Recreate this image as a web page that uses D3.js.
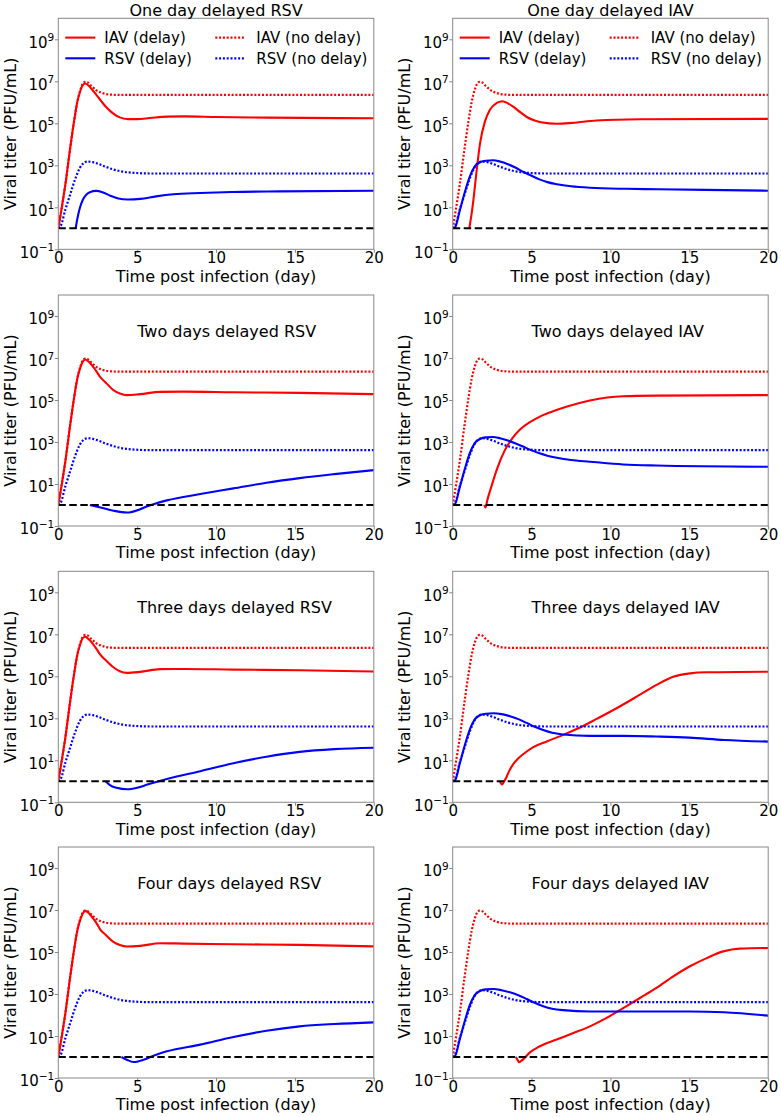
<!DOCTYPE html>
<html><head><meta charset="utf-8">
<script src="https://cdn.jsdelivr.net/npm/d3@7"></script>
<style>body{margin:0;background:#fff}svg{display:block;font-family:"DejaVu Sans",sans-serif}</style>
</head><body><svg id="chart" width="781" height="1117"></svg>
<script>
// ---------- data ----------
const days = [0, 5, 10, 15, 20];
const titerTicks = [1e-1, 1e1, 1e3, 1e5, 1e7, 1e9];
const titerTickExponents = ["\u22121", "1", "3", "5", "7", "9"];
const detectionLimit = 1;
const panelTitles = ["One day delayed RSV", "One day delayed IAV", "Two days delayed RSV", "Two days delayed IAV",
  "Three days delayed RSV", "Three days delayed IAV", "Four days delayed RSV", "Four days delayed IAV"];
const legendLabels = ["IAV (delay)", "RSV (delay)", "IAV (no delay)", "RSV (no delay)"];
const xLabel = "Time post infection (day)";
const yLabel = "Viral titer (PFU/mL)";

// [day, PFU/mL]
const iavNoDelay = [[0,1],[0.2,7.9],[0.45,126],[0.75,6.3e3],[1.0,1.26e5],[1.2,1.0e6],[1.4,4.0e6],[1.55,7.6e6],[1.7,9.3e6],[1.85,8.9e6],[2.1,6.0e6],[2.4,3.8e6],[2.7,2.9e6],[3.0,2.5e6],[3.4,2.3e6],[4.0,2.24e6],[20,2.24e6]];
const rsvNoDelay = [[0,1],[0.15,1.26],[0.45,7.9],[0.75,40],[1.05,200],[1.35,708],[1.6,1260],[1.85,1510],[2.2,1410],[2.6,1120],[3.0,850],[3.5,631],[4.0,513],[4.8,437],[6,407],[20,407]];

const iavDelayRSV1 = [[0,1],[0.2,7.9],[0.45,126],[0.75,6.3e3],[1.0,1.26e5],[1.2,1.0e6],[1.4,3.55e6],[1.55,6.6e6],[1.7,7.9e6],[1.95,6.0e6],[2.2,3.55e6],[2.45,2.09e6],[2.7,1.2e6],[3.0,6.3e5],[3.3,3.8e5],[3.6,2.51e5],[3.9,1.91e5],[4.4,1.58e5],[5.0,1.58e5],[5.8,1.78e5],[6.9,2.09e5],[8,2.14e5],[10,2.0e5],[13.2,1.86e5],[20,1.74e5]];
const rsvDelayRSV1 = [[1.1,1],[1.22,3.16],[1.38,10],[1.55,22.4],[1.75,38],[2.0,52.5],[2.4,60.3],[2.8,52.5],[3.3,35.5],[3.8,26.3],[4.4,23.4],[5.2,25.1],[6.2,33.1],[7.3,41.7],[9,47.9],[11,53.7],[14,57.5],[20,61.7]];

const iavDelayIAV1 = [[1.05,1],[1.2,5.0],[1.31,21.4],[1.52,575],[1.73,1.07e4],[2.05,1.26e5],[2.36,4.47e5],[2.79,9.3e5],[3.15,1.12e6],[3.5,8.9e5],[3.85,6.0e5],[4.3,3.3e5],[4.7,2.0e5],[5.2,1.35e5],[5.6,1.12e5],[6.6,9.5e4],[7.6,1.05e5],[9.1,1.35e5],[11.9,1.55e5],[20,1.62e5]];
const rsvDelayIAV1 = [[0,1],[0.15,1.12],[0.45,7.08],[0.78,56.2],[1.1,316],[1.4,891],[1.75,1410],[2.1,1660],[2.55,1740],[3.0,1510],[3.5,1120],[4.0,759],[4.5,479],[5.0,316],[5.5,214],[6.0,158],[6.6,126],[7.5,100],[8.7,85.1],[11,75.9],[13,72.4],[20,61.7]];

const iavDelayRSV2 = [[0,1],[0.2,7.9],[0.45,126],[0.75,6.3e3],[1.0,1.26e5],[1.2,1.0e6],[1.4,3.55e6],[1.55,6.6e6],[1.7,8.5e6],[1.95,6.5e6],[2.2,3.9e6],[2.45,2.14e6],[2.65,1.26e6],[3.0,6.9e5],[3.49,2.95e5],[3.9,2.04e5],[4.34,1.7e5],[5.19,1.91e5],[6.46,2.45e5],[7.94,2.51e5],[11.1,2.34e5],[15.3,2.19e5],[20,1.91e5]];
const rsvDelayRSV2 = [[2.0,1],[2.4,0.851],[3.0,0.661],[3.5,0.537],[4.34,0.437],[5.19,0.631],[5.6,0.851],[6.03,1.1],[6.88,1.66],[9.0,3.31],[11.1,6.17],[13.2,11.5],[15.3,19.1],[17.5,29.5],[20,45.7]];

const iavDelayIAV2 = [[2.0,1],[2.08,0.76],[2.2,1.78],[2.4,5.62],[2.8,50.1],[3.3,398],[3.8,1585],[4.3,4.17e3],[4.9,8.9e3],[5.5,1.58e4],[6.2,2.63e4],[7.2,4.79e4],[8.7,9.55e4],[9.8,1.32e5],[10.8,1.51e5],[12.9,1.62e5],[20,1.70e5]];
const rsvDelayIAV2 = [[0,1],[0.15,1.12],[0.45,7.08],[0.78,56.2],[1.1,316],[1.4,891],[1.75,1410],[2.1,1660],[2.55,1740],[3.0,1510],[3.5,1175],[4.0,851],[4.5,589],[5.0,398],[5.5,288],[6.0,224],[6.6,178],[7.5,138],[8.7,115],[10.8,85.1],[12.9,75.9],[20,66.1]];

const iavDelayRSV3 = [[0,1],[0.2,7.9],[0.45,126],[0.75,6.3e3],[1.0,1.26e5],[1.2,1.0e6],[1.4,3.55e6],[1.55,6.6e6],[1.7,7.6e6],[1.95,5.6e6],[2.2,3.4e6],[2.45,1.86e6],[2.65,1.1e6],[3.0,5.9e5],[3.49,2.69e5],[3.9,1.74e5],[4.34,1.45e5],[5.19,1.62e5],[6.46,2.19e5],[7.94,2.24e5],[11.1,2.09e5],[15.3,1.95e5],[20,1.70e5]];
const rsvDelayRSV3 = [[3.0,1],[3.3,0.631],[3.7,0.49],[4.34,0.417],[5.19,0.537],[5.6,0.676],[6.03,0.851],[6.88,1.29],[9.0,3.02],[11.1,7.24],[13.2,14.8],[15.3,25.1],[17.5,33.9],[20,39.8]];

const iavDelayIAV3 = [[3.0,1],[3.12,0.708],[3.25,0.955],[3.42,1.66],[3.6,3.31],[3.84,6.61],[4.1,11.2],[4.48,20],[5.11,42.7],[5.96,79.4],[7.01,162],[8.07,363],[9.12,933],[10.39,3020],[11.66,1.07e4],[12.92,3.89e4],[13.98,9.55e4],[15.04,1.38e5],[16.1,1.55e5],[20,1.66e5]];
const rsvDelayIAV3 = [[0,1],[0.15,1.12],[0.45,7.08],[0.78,56.2],[1.1,316],[1.4,891],[1.75,1410],[2.1,1660],[2.58,1740],[3.1,1585],[3.63,1259],[4.2,891],[4.69,603],[5.2,398],[5.74,275],[6.3,204],[7.0,170],[8.7,145],[10.8,145],[12.9,135],[15.0,120],[17.2,93.3],[20,77.6]];

const iavDelayRSV4 = [[0,1],[0.2,7.9],[0.45,126],[0.75,6.3e3],[1.0,1.26e5],[1.2,1.0e6],[1.4,3.55e6],[1.55,6.6e6],[1.7,9.1e6],[1.95,6.9e6],[2.2,4.0e6],[2.45,2.19e6],[2.65,1.2e6],[3.0,6.6e5],[3.49,3.0e5],[3.9,2.14e5],[4.34,1.82e5],[5.19,1.95e5],[6.46,2.63e5],[7.94,2.51e5],[11.1,2.34e5],[15.3,2.19e5],[20,1.86e5]];
const rsvDelayRSV4 = [[4.0,1],[4.34,0.741],[4.76,0.575],[5.4,0.741],[6.03,1.15],[6.88,1.86],[9.0,3.89],[11.1,8.91],[13.2,17.8],[15.3,28.8],[17.5,37.2],[20,44.7]];

const iavDelayIAV4 = [[4.0,1],[4.12,0.708],[4.22,0.562],[4.35,0.661],[4.48,0.794],[4.9,1.66],[5.53,3.24],[6.59,6.76],[7.65,13.8],[8.7,28.8],[9.76,72.4],[10.81,214],[11.87,646],[12.92,1950],[13.98,6920],[15.04,2.09e4],[16.1,5.13e4],[17.15,1.07e5],[18.2,1.45e5],[20,1.55e5]];
const rsvDelayIAV4 = [[0,1],[0.15,1.12],[0.45,7.08],[0.78,56.2],[1.1,316],[1.4,891],[1.75,1410],[2.1,1660],[2.58,1740],[3.1,1514],[3.63,1202],[4.2,851],[4.69,575],[5.2,380],[5.74,263],[6.3,200],[7.0,170],[8.7,148],[10.8,148],[12.9,148],[15.0,148],[17.2,135],[20,93.3]];

const panels = [
  {iav: iavDelayRSV1, rsv: rsvDelayRSV1}, {iav: iavDelayIAV1, rsv: rsvDelayIAV1},
  {iav: iavDelayRSV2, rsv: rsvDelayRSV2}, {iav: iavDelayIAV2, rsv: rsvDelayIAV2},
  {iav: iavDelayRSV3, rsv: rsvDelayRSV3}, {iav: iavDelayIAV3, rsv: rsvDelayIAV3},
  {iav: iavDelayRSV4, rsv: rsvDelayRSV4}, {iav: iavDelayIAV4, rsv: rsvDelayIAV4}
].map((p, i) => Object.assign(p, {title: panelTitles[i]}));

// ---------- layout ----------
const svg = d3.select("#chart");
const W = 315.5, H = 231;
const colX = [58.3, 452.7], rowY = [18.3, 295, 571.3, 847];
const RED = "#ff0000", BLUE = "#0000ff", SPINE = "#888";
const x = d3.scaleLinear().domain([0, 20]).range([0, W]);
const y = d3.scaleLog().domain([0.1, 1e10]).range([H, 0]);
const line = d3.line().x(d => x(d[0])).y(d => y(d[1])).curve(d3.curveMonotoneX);
const DOT = "2,1.8", DASH = "7.5,3.5";

panels.forEach((p, i) => {
  const row = Math.floor(i / 2), col = i % 2;
  const g = svg.append("g").attr("transform", `translate(${colX[col]},${rowY[row]})`);
  const clipId = "clip" + i;
  g.append("clipPath").attr("id", clipId).append("rect").attr("width", W).attr("height", H);
  const plot = g.append("g").attr("clip-path", `url(#${clipId})`);

  const series = [
    {d: p.iav, c: RED, dash: null},
    {d: p.rsv, c: BLUE, dash: null},
    {d: iavNoDelay, c: RED, dash: DOT},
    {d: rsvNoDelay, c: BLUE, dash: DOT}
  ];
  series.forEach(s => {
    plot.append("path").datum(s.d).attr("d", line)
      .attr("fill", "none").attr("stroke", s.c).attr("stroke-width", s.dash ? 2.2 : 2.1)
      .attr("stroke-dasharray", s.dash);
  });
  plot.append("line").attr("x1", x(0)).attr("x2", x(20))
    .attr("y1", y(detectionLimit)).attr("y2", y(detectionLimit))
    .attr("stroke", "#000").attr("stroke-width", 2).attr("stroke-dasharray", DASH);

  // x axis
  const xa = g.append("g").attr("transform", `translate(0,${H})`)
    .call(d3.axisBottom(x).tickValues(days).tickSize(3.5).tickPadding(0).tickSizeOuter(0));
  xa.attr("font-family", null).attr("font-size", 15);
  xa.select(".domain").remove();
  xa.selectAll(".tick line").attr("stroke", SPINE);
  xa.selectAll(".tick text").attr("fill", "#000");

  // y axis
  const ya = g.append("g")
    .call(d3.axisLeft(y).tickValues(titerTicks).tickSize(3.5).tickPadding(0.5).tickFormat(() => ""));
  ya.attr("font-family", null).attr("font-size", 15);
  ya.select(".domain").remove();
  ya.selectAll(".tick line").attr("stroke", SPINE);
  ya.selectAll(".tick text").each(function(d, j) {
    const t = d3.select(this);
    t.text(null).attr("dy", 7.8).attr("fill", "#000");
    t.append("tspan").text("10");
    t.append("tspan").attr("dy", -6.5).attr("font-size", 10.5).text(titerTickExponents[j]);
  });

  // frame
  g.append("rect").attr("width", W).attr("height", H)
    .attr("fill", "none").attr("stroke", SPINE).attr("stroke-width", 1);

  // axis labels
  g.append("text").attr("x", W / 2).attr("y", H + 32.3).attr("text-anchor", "middle")
    .attr("font-size", 16).text(xLabel);
  g.append("text").attr("transform", `translate(-42.8,${H / 2}) rotate(-90)`)
    .attr("text-anchor", "middle").attr("font-size", 16).text(yLabel);

  // title
  if (row === 0) {
    g.append("text").attr("x", W / 2).attr("y", -2).attr("text-anchor", "middle")
      .attr("font-size", 16).text(p.title);
  } else {
    g.append("text").attr("x", x(5)).attr("y", y(1e8)).attr("text-anchor", "start")
      .attr("font-size", 16).text(p.title);
  }

  // legend
  if (row === 0) {
    const items = [
      {label: legendLabels[0], c: RED, dash: null, lx: 7, tx: 46, ly: 19.3},
      {label: legendLabels[1], c: BLUE, dash: null, lx: 7, tx: 46, ly: 40},
      {label: legendLabels[2], c: RED, dash: DOT, lx: 157, tx: 198, ly: 19.3},
      {label: legendLabels[3], c: BLUE, dash: DOT, lx: 157, tx: 198, ly: 40}
    ];
    items.forEach(it => {
      g.append("line").attr("x1", it.lx).attr("x2", it.lx + 30).attr("y1", it.ly).attr("y2", it.ly)
        .attr("stroke", it.c).attr("stroke-width", it.dash ? 2.2 : 2.1).attr("stroke-dasharray", it.dash);
      g.append("text").attr("x", it.tx).attr("y", it.ly + 5.4).attr("font-size", 15).text(it.label);
    });
  }
});
</script>
</body></html>
